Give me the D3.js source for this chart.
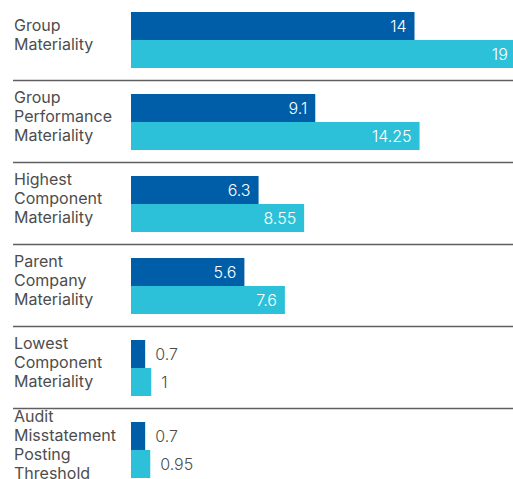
<!DOCTYPE html>
<html>
<head>
<meta charset="utf-8">
<script src="https://cdn.jsdelivr.net/npm/d3@7"></script>
<style>
  html, body { margin: 0; padding: 0; background: #fff; overflow: hidden; }
  svg { display: block; }
</style>
</head>
<body>
<svg id="chart" width="513" height="479"></svg>
<script>
// Materiality thresholds (£m)
const categories = [
  ["Group", "Materiality"],
  ["Group", "Performance", "Materiality"],
  ["Highest", "Component", "Materiality"],
  ["Parent", "Company", "Materiality"],
  ["Lowest", "Component", "Materiality"],
  ["Audit", "Misstatement", "Posting", "Threshold"]
];
const seriesA = [14, 9.1, 6.3, 5.6, 0.7, 0.7];
const seriesB = [19, 14.25, 8.55, 7.6, 1, 0.95];
const valueLabelsA = ["14", "9.1", "6.3", "5.6", "0.7", "0.7"];
const valueLabelsB = ["19", "14.25", "8.55", "7.6", "1", "0.95"];

const colorA = "#005EA8";
const colorB = "#2CC1D8";
const textColor = "#4d4d4d";
const fontFamily = "Inter, 'Noto Sans', sans-serif";

const svg = d3.select("#chart");
const W = 513;

const x = d3.scaleLinear().domain([0, 19]).range([131, 515.75]);
const groupIdx = d3.range(categories.length);
const y = d3.scaleBand().domain(groupIdx).range([12, 12 + 82 * 6]);
const barH = 28;

const rows = groupIdx.map(i => ({
  i,
  lines: categories[i],
  bars: [
    { v: seriesA[i], label: valueLabelsA[i], color: colorA, k: 0 },
    { v: seriesB[i], label: valueLabelsB[i], color: colorB, k: 1 }
  ]
}));

// separators between groups
svg.selectAll("line.sep")
  .data(groupIdx.slice(1))
  .join("line")
  .attr("class", "sep")
  .attr("x1", 13).attr("x2", W)
  .attr("y1", d => y(d) - 13.5).attr("y2", d => y(d) - 13.5)
  .attr("stroke", "#5f5f5f")
  .attr("stroke-width", 1.5);

const g = svg.selectAll("g.row")
  .data(rows)
  .join("g")
  .attr("class", "row")
  .attr("transform", d => `translate(0,${y(d.i)})`);

// category labels, vertically centred on the pair of bars
g.each(function(d) {
  const lh = 19;
  const n = d.lines.length;
  const t = d3.select(this).append("text")
    .attr("fill", textColor)
    .style("font-family", fontFamily)
    .style("font-size", "16px");
  d.lines.forEach((ln, j) => {
    t.append("tspan")
      .attr("x", 14)
      .attr("y", barH + (j - (n - 1) / 2) * lh)
      .text(ln);
  });
});

// bars
g.selectAll("rect")
  .data(d => d.bars)
  .join("rect")
  .attr("x", x(0))
  .attr("y", b => b.k * barH)
  .attr("width", b => x(b.v) - x(0))
  .attr("height", barH)
  .attr("fill", b => b.color);

// value labels: inside the bar when it fits, otherwise just past its end
g.selectAll("text.val")
  .data(d => d.bars)
  .join("text")
  .attr("class", "val")
  .attr("y", b => b.k * barH + barH / 2 + 6)
  .each(function(b) {
    const inside = x(b.v) - x(0) > 40;
    d3.select(this)
      .attr("x", inside ? x(b.v) - 8 : x(b.v) + 10)
      .attr("text-anchor", inside ? "end" : "start")
      .attr("fill", inside ? "#ffffff" : textColor);
  })
  .style("font-family", fontFamily)
  .style("font-weight", 300)
  .style("font-size", "16px")
  .text(b => b.label);
</script>
</body>
</html>
